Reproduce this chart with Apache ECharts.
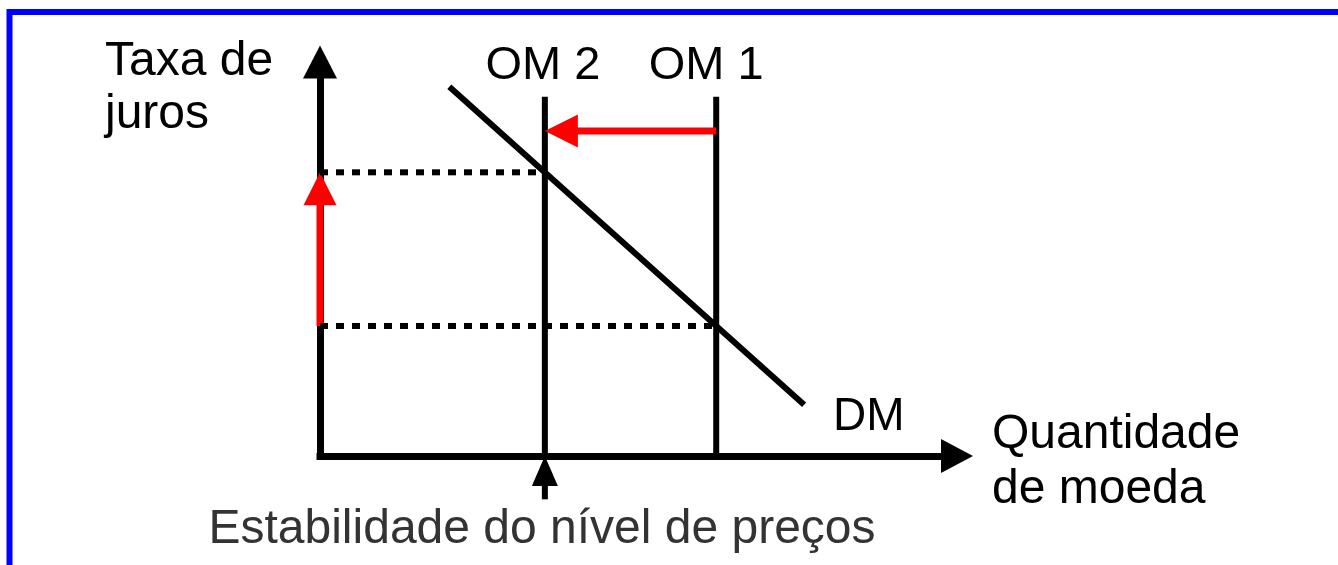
<!DOCTYPE html>
<html>
<head>
<meta charset="utf-8">
<script src="https://cdn.jsdelivr.net/npm/echarts@6/dist/echarts.min.js"></script>
<style>
html, body { margin: 0; padding: 0; background: #fff; }
#main { width: 1338px; height: 565px; }
</style>
</head>
<body>
<div id="main"></div>
<script>
// eixo x: quantidade de moeda (0-100), eixo y: taxa de juros (0-100)
var supplyNames = ['OM 2', 'OM 1'];
var supplyQty = [35.3, 62.2];
var supplyTop = 91.2;
var demandPoints = [[20.3, 93.7], [76, 13]];
var rateLevels = [72, 33];
// setas: [x1, y1, x2, y2]
var rateArrow = [0, 33, 0, 72];
var shiftArrow = [62.2, 82.5, 35.3, 82.5];
var stabilityArrow = [35.3, -11, 35.3, 0];

var FAMILY = '"Liberation Sans", Arial, sans-serif';
var FONT = '48px ' + FAMILY;
var labelShift = [-2, -10]; // deslocamento horizontal dos rótulos OM (px)

var myChart = echarts.init(document.getElementById('main'));

function arrowRender(color, headLen, headHalf, width) {
    return function (params, api) {
        var p1 = api.coord([api.value(0), api.value(1)]);
        var p2 = api.coord([api.value(2), api.value(3)]);
        var dx = p2[0] - p1[0], dy = p2[1] - p1[1];
        var len = Math.sqrt(dx * dx + dy * dy);
        var ux = dx / len, uy = dy / len;
        var bx = p2[0] - ux * headLen, by = p2[1] - uy * headLen;
        return {
            type: 'group',
            children: [
                {
                    type: 'line',
                    shape: { x1: p1[0], y1: p1[1], x2: bx + ux, y2: by + uy },
                    style: { stroke: color, lineWidth: width }
                },
                {
                    type: 'polygon',
                    shape: {
                        points: [
                            [p2[0], p2[1]],
                            [bx - uy * headHalf, by + ux * headHalf],
                            [bx + uy * headHalf, by - ux * headHalf]
                        ]
                    },
                    style: { fill: color }
                }
            ]
        };
    };
}

function axisCfg(size) {
    return {
        type: 'value',
        min: 0,
        max: 100,
        axisLine: {
            show: true,
            symbol: ['none', 'triangle'],
            symbolSize: size,
            lineStyle: { color: '#000', width: 7, cap: 'square' }
        },
        axisTick: { show: false },
        axisLabel: { show: false },
        splitLine: { show: false }
    };
}

var option = {
    animation: false,
    grid: { left: 320, right: 381, top: 62, bottom: 109 },
    xAxis: axisCfg([34, 32]),
    yAxis: axisCfg([34, 33]),
    graphic: [
        {
            type: 'polyline',
            shape: { points: [[9.5, 565], [9.5, 12], [1338, 12]] },
            style: { stroke: '#0000ff', lineWidth: 6, fill: 'none' }
        },
        {
            type: 'text', x: 105, y: 88.7,
            style: { text: 'Taxa de\njuros', font: FONT, fill: '#000', lineHeight: 53, verticalAlign: 'middle', textVerticalAlign: 'middle' }
        },
        {
            type: 'text', x: 992, y: 462.7,
            style: { text: 'Quantidade\nde moeda', font: FONT, fill: '#000', lineHeight: 55, verticalAlign: 'middle', textVerticalAlign: 'middle' }
        },
        {
            type: 'text', x: 542, y: 530,
            style: { text: 'Estabilidade do nível de preços', font: FONT, fill: '#333', align: 'center', textAlign: 'center', verticalAlign: 'middle', textVerticalAlign: 'middle' }
        }
    ],
    series: [
        // linhas pontilhadas das taxas de juros
        {
            type: 'line',
            symbol: 'none',
            silent: true,
            lineStyle: { color: '#000', width: 6, type: [8, 8] },
            data: [[0, rateLevels[0]], [supplyQty[0], rateLevels[0]]]
        },
        {
            type: 'line',
            symbol: 'none',
            silent: true,
            lineStyle: { color: '#000', width: 6, type: [8, 8] },
            data: [[0, rateLevels[1]], [supplyQty[1], rateLevels[1]]]
        },
        // demanda de moeda
        {
            type: 'line',
            symbol: 'none',
            silent: true,
            lineStyle: { color: '#000', width: 6 },
            endLabel: {
                show: true,
                formatter: 'DM',
                color: '#000',
                fontSize: 46,
                fontFamily: FAMILY,
                distance: 0,
                offset: [29, 13]
            },
            data: demandPoints
        },
        // oferta de moeda
        {
            type: 'custom',
            silent: true,
            encode: { x: 0, y: 1 },
            data: supplyQty.map(function (q) { return [q, supplyTop]; }),
            renderItem: function (params, api) {
                var q = api.value(0);
                var bottom = api.coord([q, 0]);
                var top = api.coord([q, api.value(1)]);
                return {
                    type: 'group',
                    children: [
                        {
                            type: 'line',
                            shape: { x1: bottom[0], y1: bottom[1], x2: top[0], y2: top[1] },
                            style: { stroke: '#000', lineWidth: 6 }
                        },
                        {
                            type: 'text',
                            x: top[0] + labelShift[params.dataIndex], y: top[1] - 31,
                            style: { text: supplyNames[params.dataIndex], font: '47px ' + FAMILY, fill: '#000', align: 'center', textAlign: 'center', verticalAlign: 'middle', textVerticalAlign: 'middle' }
                        }
                    ]
                };
            }
        },
        {
            type: 'custom',
            silent: true,
            encode: { x: [0, 2], y: [1, 3] },
            data: [rateArrow, shiftArrow],
            renderItem: arrowRender('#ff0000', 33, 16.5, 7)
        },
        {
            type: 'custom',
            silent: true,
            encode: { x: [0, 2], y: [1, 3] },
            data: [stabilityArrow],
            renderItem: arrowRender('#000', 30, 13, 6)
        }
    ]
};
option && myChart.setOption(option);
</script>
</body>
</html>
